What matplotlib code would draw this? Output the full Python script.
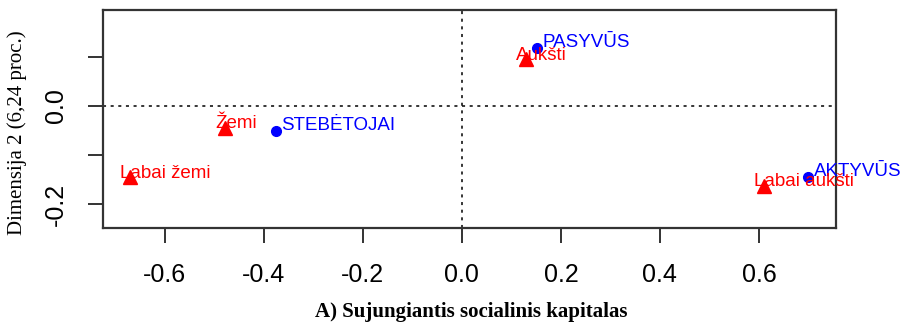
import matplotlib
matplotlib.use("Agg")
import matplotlib.pyplot as plt
from matplotlib.ticker import FixedLocator, FuncFormatter

# Correspondence analysis coordinates (dimension 1, dimension 2)
groups = ["PASYVŪS", "STEBĖTOJAI", "AKTYVŪS"]
groups_x = [0.152, -0.376, 0.699]
groups_y = [0.119, -0.052, -0.145]

levels = ["Aukšti", "Žemi", "Labai žemi", "Labai aukšti"]
levels_x = [0.129, -0.479, -0.671, 0.610]
levels_y = [0.095, -0.045, -0.146, -0.163]

x_ticks = [-0.6, -0.4, -0.2, 0.0, 0.2, 0.4, 0.6]
y_ticks = [-0.2, -0.1, 0.0, 0.1]
y_labelled = [-0.2, 0.0]

fig = plt.figure(figsize=(9.03, 3.28), dpi=100)
ax = fig.add_axes([0.114, 0.305, 0.812, 0.665])

ax.axhline(0, color="black", linestyle=(0, (2, 3)), linewidth=1.1, zorder=1)
ax.axvline(0, color="black", linestyle=(0, (2, 3)), linewidth=1.1, zorder=1)

ax.plot(groups_x, groups_y, "o", color="#0000ff", markersize=7, zorder=3)
ax.plot(levels_x, levels_y, "^", color="#ff0000", markersize=10, zorder=3)

for name, x, y in zip(groups, groups_x, groups_y):
    ax.annotate(name, (x, y), xytext=(4, 4), textcoords="offset points",
                color="#0000ff", fontsize=13.5, family="Liberation Sans",
                ha="left", va="center", zorder=4)
for name, x, y in zip(levels, levels_x, levels_y):
    ax.annotate(name, (x, y), xytext=(-7, 3), textcoords="offset points",
                color="#ff0000", fontsize=13.5, family="Liberation Sans",
                ha="left", va="center", zorder=4)

ax.set_xlim(-0.725, 0.756)
ax.set_ylim(-0.249, 0.196)

ax.xaxis.set_major_locator(FixedLocator(x_ticks))
ax.xaxis.set_major_formatter(FuncFormatter(lambda v, p: f"{v:.1f}"))
ax.yaxis.set_major_locator(FixedLocator(y_ticks))
ax.yaxis.set_major_formatter(FuncFormatter(
    lambda v, p: f"{v:.1f}" if any(abs(v - t) < 1e-9 for t in y_labelled) else ""))

for s in ax.spines.values():
    s.set_color("#333333")
    s.set_linewidth(1.6)
ax.tick_params(axis="both", direction="out", length=10.5, width=1.4, color="#333333",
               labelsize=18, pad=15)
for lab in ax.get_xticklabels() + ax.get_yticklabels():
    lab.set_family("Liberation Sans")
for lab in ax.get_yticklabels():
    lab.set_rotation(90)
    lab.set_va("center")

ax.set_ylabel("Dimensija 2 (6,24 proc.)", family="Liberation Serif", fontsize=15)
ax.yaxis.set_label_coords(-0.104, 0.436)

fig.text(0.522, 0.048, "A) Sujungiantis socialinis kapitalas", family="Liberation Serif",
         fontweight="bold", fontsize=15, ha="center", va="center")

fig.savefig("out.png", dpi=100)
